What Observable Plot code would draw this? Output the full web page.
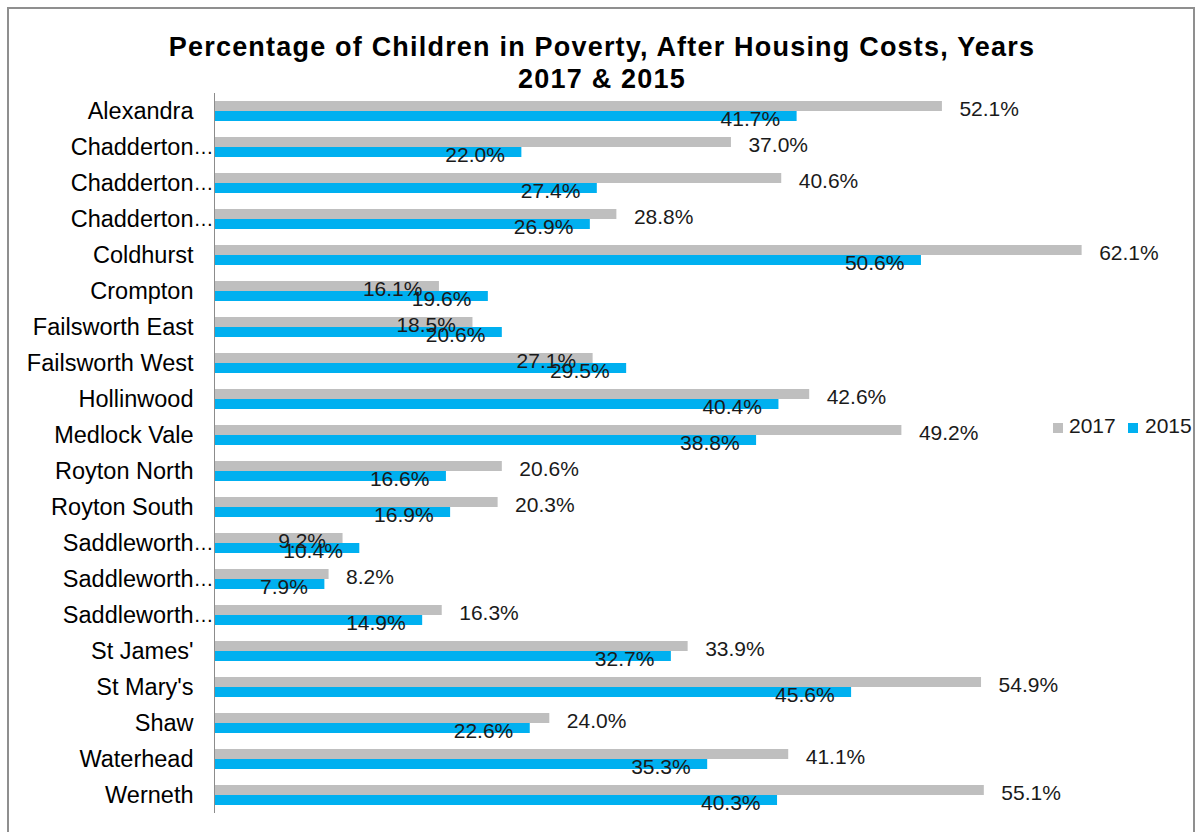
<!DOCTYPE html>
<html>
<head>
<meta charset="utf-8">
<script src="https://cdn.jsdelivr.net/npm/d3@7"></script>
<script src="https://cdn.jsdelivr.net/npm/@observablehq/plot@0.6"></script>
<style>
  body { margin: 0; background: #fff; font-family: "Liberation Sans", Arial, sans-serif; overflow: hidden; }
  #wrap { position: relative; width: 1200px; height: 832px; }
  #frame { position: absolute; left: 7px; top: 7px; width: 1188px; height: 860px; border: 2px solid #8f8f8f; box-sizing: border-box; z-index: 2; pointer-events: none; }
  #title { position: absolute; left: 2px; top: 31px; width: 1200px; text-align: center; font-weight: bold; font-size: 27px; line-height: 32px; letter-spacing: 1.2px; color: #000; z-index: 3; }
  #chart { position: absolute; left: 0; top: 0; z-index: 1; }
  .sw { position: absolute; width: 10px; height: 10px; top: 423px; z-index: 3; }
  .lt { position: absolute; top: 415px; font-size: 21px; line-height: 21px; color: #1a1a1a; z-index: 3; }
</style>
</head>
<body>
<div id="wrap">
  <div id="frame"></div>
  <div id="title">Percentage of Children in Poverty, After Housing Costs, Years<br>2017 &amp; 2015</div>
  <div id="chart"></div>
  <div id="legend"></div>
</div>
<script>
const wards = ["Alexandra", "Chadderton Central", "Chadderton North", "Chadderton South", "Coldhurst", "Crompton",
  "Failsworth East", "Failsworth West", "Hollinwood", "Medlock Vale", "Royton North", "Royton South",
  "Saddleworth North", "Saddleworth South", "Saddleworth West and Lees", "St James'", "St Mary's", "Shaw",
  "Waterhead", "Werneth"];
const wardLabels = ["Alexandra", "Chadderton", "Chadderton", "Chadderton", "Coldhurst", "Crompton",
  "Failsworth East", "Failsworth West", "Hollinwood", "Medlock Vale", "Royton North", "Royton South",
  "Saddleworth", "Saddleworth", "Saddleworth", "St James'", "St Mary's", "Shaw",
  "Waterhead", "Werneth"];
const years = ["2017", "2015"];
const values2017 = [52.1, 37.0, 40.6, 28.8, 62.1, 16.1, 18.5, 27.1, 42.6, 49.2, 20.6, 20.3, 9.2, 8.2, 16.3, 33.9, 54.9, 24.0, 41.1, 55.1];
const values2015 = [41.7, 22.0, 27.4, 26.9, 50.6, 19.6, 20.6, 29.5, 40.4, 38.8, 16.6, 16.9, 10.4, 7.9, 14.9, 32.7, 45.6, 22.6, 35.3, 40.3];
const colors = ["#bfbfbf", "#00b0f0"];

const rows = [];
wards.forEach((w, i) => {
  rows.push({ward: w, year: "2017", value: values2017[i], other: values2015[i]});
  rows.push({ward: w, year: "2015", value: values2015[i], other: values2017[i]});
});
const r2017out = rows.filter(d => d.year === "2017" && d.value >= d.other);
const r2017in = rows.filter(d => d.year === "2017" && d.value < d.other);
const r2015 = rows.filter(d => d.year === "2015");
const wardRows = wards.map((w, i) => ({ward: w, label: wardLabels[i], trunc: w !== wardLabels[i]}));
const fmt = d => d3.format(".1f")(d.value) + "%";
const labelFill = "#1a1a1a";

const chart = Plot.plot({
  width: 1200,
  height: 832,
  marginLeft: 214,
  marginRight: 8,
  marginTop: 90,
  marginBottom: 17,
  facet: {marginTop: 0, marginBottom: 0, marginLeft: 0, marginRight: 0},
  style: {background: "transparent", fontFamily: "Liberation Sans, Arial, sans-serif"},
  x: {domain: [0, 70], axis: null},
  y: {domain: years, axis: null, paddingInner: 0, paddingOuter: 0.686},
  fy: {domain: wards, axis: null, padding: 0, label: null},
  color: {domain: years, range: colors},
  marks: [
    Plot.barX(rows, {x: "value", y: "year", fy: "ward", fill: "year"}),
    Plot.ruleX([0], {stroke: "#8c8c8c", strokeWidth: 1}),
    Plot.text(r2017out, {x: "value", y: "year", fy: "ward", text: fmt, textAnchor: "start", dx: 17, dy: 3, fontSize: 21, fill: labelFill}),
    Plot.text(r2017in, {x: "value", y: "year", fy: "ward", text: fmt, textAnchor: "end", dx: -17, dy: 3, fontSize: 21, fill: labelFill}),
    Plot.text(r2015, {x: "value", y: "year", fy: "ward", text: fmt, textAnchor: "end", dx: -17, dy: 3, fontSize: 21, fill: labelFill}),
    Plot.text(wardRows, {fy: "ward", text: "label", frameAnchor: "left", dx: -21, textAnchor: "end", fontSize: 23.5, fill: "#000"}),
    Plot.text(wardRows.filter(d => d.trunc), {fy: "ward", text: () => "…", frameAnchor: "left", dx: -21, textAnchor: "start", fontSize: 20, fill: "#000"})
  ]
});
document.getElementById("chart").appendChild(chart);

// legend
const legend = document.getElementById("legend");
const legendPos = [{sw: 1053, tx: 1069}, {sw: 1128, tx: 1145}];
years.forEach((y, i) => {
  const s = document.createElement("div");
  s.className = "sw";
  s.style.left = legendPos[i].sw + "px";
  s.style.background = colors[i];
  legend.appendChild(s);
  const t = document.createElement("div");
  t.className = "lt";
  t.style.left = legendPos[i].tx + "px";
  t.textContent = y;
  legend.appendChild(t);
});
</script>
</body>
</html>
